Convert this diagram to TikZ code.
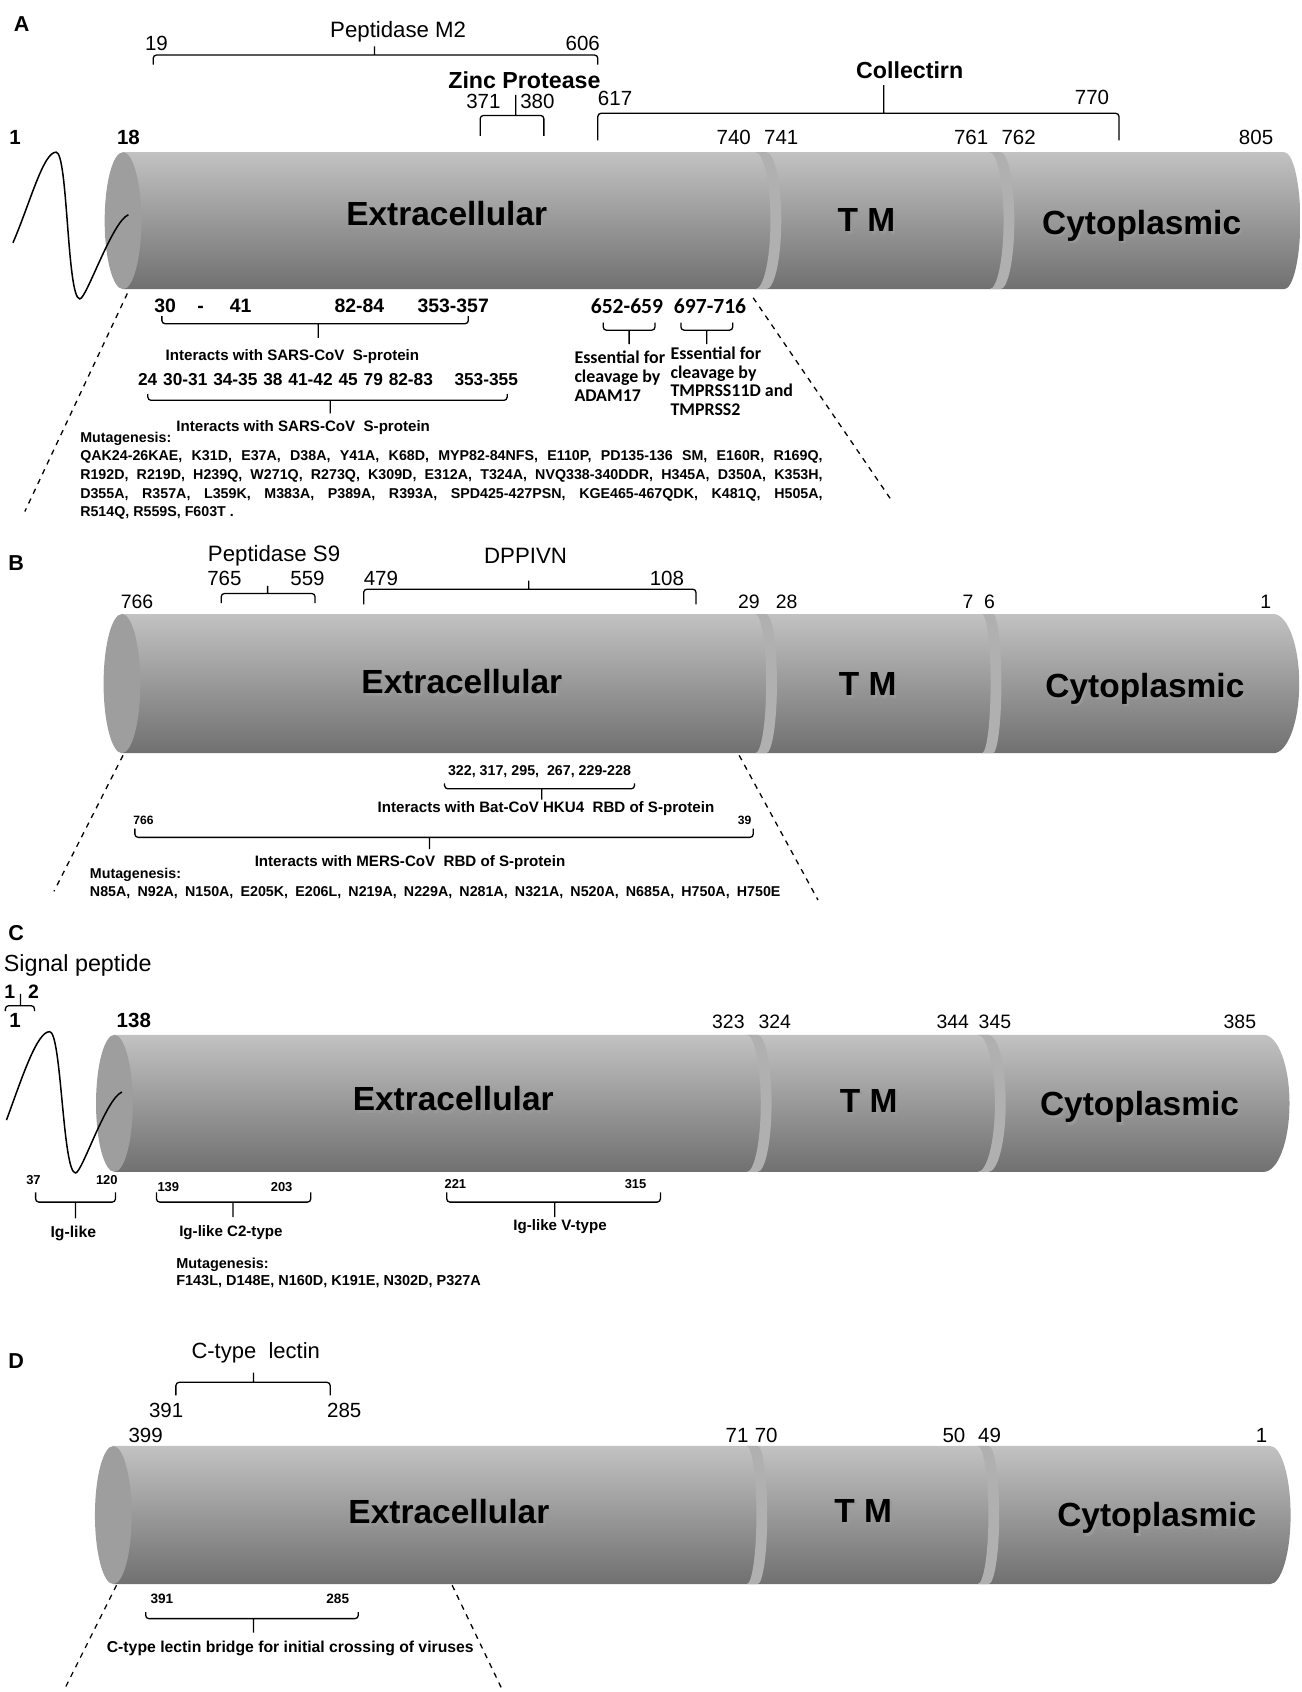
\documentclass[tikz,border=0pt]{standalone}
\usepackage{fontspec}
\setmainfont{Liberation Sans}
\newfontfamily\calfont{Carlito}
\newcommand{\fsz}[1]{\fontsize{#1}{#1}\selectfont}

\begin{document}
\begin{tikzpicture}[x=0.5pt, y=-0.5pt,
	body/.style={top color=black!24, bottom color=black!56, middle color=black!40},
	face/.style={fill=black!38},
	groove/.style={fill=black!31},
	wave/.style={line width=0.7pt},
	brk/.style={line width=0.6pt, rounded corners=1.5pt},
	zoomline/.style={line width=0.6pt, dash pattern=on 2.5pt off 2.5pt},
	panel/.style={font={\bfseries\fsz{10}}, inner sep=0pt},
	seg/.style={font={\bfseries\fsz{15.5}}, inner sep=0pt},
	segsh/.style={seg, text=black!40},
	num/.style={font={\fsz{9.5}}, inner sep=0pt},
	bnum/.style={font={\bfseries\fsz{9.5}}, inner sep=0pt},
	mid/.style={font={\bfseries\fsz{9}}, inner sep=0pt},
	ttl/.style={font={\fsz{10.3}}, inner sep=0pt},
	btl/.style={font={\bfseries\fsz{10.75}}, inner sep=0pt},
	note/.style={font={\bfseries\fsz{7}}, inner sep=0pt},
	tiny/.style={font={\bfseries\fsz{6}}, inner sep=0pt},
	cal/.style={font={\calfont\bfseries\fsz{10}}, inner sep=0pt},
	calnote/.style={font={\calfont\bfseries\fontsize{8.3}{8.7}\selectfont}, align=left, anchor=north west, inner sep=0pt},
	mut/.style={align=left, anchor=north west, inner sep=0pt}]

	\useasboundingbox (0,0) rectangle (1206,1568);

	% A
	\shade[body] (114,141) -- (1190,141) arc[start angle=-90, end angle=90, x radius=15, y radius=63.5] -- (114,268) -- cycle;
	\fill[groove] (700,141) arc[start angle=-90, end angle=90, x radius=14, y radius=63.5] -- (710,268) arc[start angle=90, end angle=-90, x radius=14, y radius=63.5] -- cycle;
	\fill[groove] (917,141) arc[start angle=-90, end angle=90, x radius=13, y radius=63.5] -- (927,268) arc[start angle=90, end angle=-90, x radius=13, y radius=63.5] -- cycle;
	\fill[face] (114,204.5) ellipse[x radius=17, y radius=63.5];
	\draw[wave] (12,225) .. controls (28,188) and (40,141) .. (52,141) .. controls (63,141) and (62,277) .. (74,277) .. controls (80,277) and (104,205) .. (119,199);

	\node[panel] (lblA) at (20,22) {A};
	\node[ttl] (pepM2) at (369,29) {Peptidase M2};
	\node[num] (a19) at (145,40) {19};
	\node[num] (a606) at (540,40) {606};
	\draw[brk] (142,60) -- (142,51) -- (554,51) -- (554,60) (347,51) -- (347,43);
	\node[btl] (zinc) at (486,74) {Zinc Protease};
	\node[num] (a371) at (448,94) {371};
	\node[num] (a380) at (498,94) {380};
	\draw[brk] (445,126) -- (445,107) -- (504,107) -- (504,126) (478,107) -- (478,88);
	\node[num] (a617) at (570,91) {617};
	\node[btl] (coll) at (843,65) {Collectirn};
	\node[num] (a770) at (1012,90) {770};
	\draw[brk] (554,130) -- (554,105) -- (1037,105) -- (1037,130) (819,105) -- (819,79);

	\node[bnum] (a1) at (14,127) {1};
	\node[bnum] (a18) at (119,127) {18};
	\node[num] (a740) at (680,127) {740};
	\node[num] (a741) at (724,127) {741};
	\node[num] (a761) at (900,127) {761};
	\node[num] (a762) at (944,127) {762};
	\node[num] (a805) at (1164,127) {805};

	\node[segsh] (aExtS) at (416,200.5) {Extracellular};
	\node[seg] (aExt) at (414,198) {Extracellular};
	\node[segsh] (aTMS) at (805,206.5) {T M};
	\node[seg] (aTM) at (803,204) {T M};
	\node[segsh] (aCytS) at (1060,211.5) {Cytoplasmic};
	\node[seg] (aCyt) at (1058,209) {Cytoplasmic};

	\node[mid] (a30) at (153,283) {30};
	\node[mid] (aDash) at (186,283) {\vphantom{0}-};
	\node[mid] (a41) at (223,283) {41};
	\node[mid] (a82) at (333,283) {82-84};
	\node[mid] (a353) at (420,283) {353-357};
	\draw[brk] (150,293) -- (150,300) -- (434,300) -- (434,293) (295,300) -- (295,313);
	\node[note] (aInt1) at (271,330) {Interacts with SARS-CoV\ \ S-protein};
	\node[inner sep=0pt, font={\bfseries\fsz{8}}] (aList) at (304,352) {\makebox[176pt][s]{24 30-31 34-35 38 41-42 45 79 82-83\hspace{10pt}353-355}};
	\draw[brk] (137,365) -- (137,371) -- (470,371) -- (470,365) (306,371) -- (306,383);
	\node[note] (aInt2) at (281,396) {Interacts with SARS-CoV\ \ S-protein};
	\node[mut, font={\bfseries\fontsize{6.6}{8.6}\selectfont}] (aMut) at (74,400) {Mutagenesis:\\
		\makebox[344pt][s]{QAK24-26KAE, K31D, E37A, D38A, Y41A, K68D, MYP82-84NFS, E110P, PD135-136 SM, E160R, R169Q,}\\
		\makebox[344pt][s]{R192D, R219D, H239Q, W271Q, R273Q, K309D, E312A, T324A, NVQ338-340DDR, H345A, D350A, K353H,}\\
		\makebox[344pt][s]{D355A, R357A, L359K, M383A, P389A, R393A, SPD425-427PSN, KGE465-467QDK, K481Q, H505A,}\\
		R514Q, R559S, F603T .};

	\node[cal] (a652) at (581,284) {652-659};
	\node[cal] (a697) at (658,284) {697-716};
	\draw[brk] (559,299) -- (559,306) -- (607,306) -- (607,299) (583,306) -- (583,319);
	\draw[brk] (631,299) -- (631,306) -- (679,306) -- (679,299) (655,306) -- (655,319);
	\node[calnote] (adam) at (532,325) {Essential for\\cleavage by\\ADAM17};
	\node[calnote] (tmprss) at (621,321) {Essential for\\cleavage by\\TMPRSS11D and\\TMPRSS2};

	\coordinate (aZl) at (118,272);
	\coordinate (aZlEnd) at (23,474);
	\coordinate (aZr) at (698,276);
	\coordinate (aZrEnd) at (825,462);
	\draw[zoomline] (aZl) -- (aZlEnd);
	\draw[zoomline] (aZr) -- (aZrEnd);

	% B
	\shade[body] (113,569) -- (1180,569) arc[start angle=-90, end angle=90, x radius=24, y radius=64.5] -- (113,698) -- cycle;
	\fill[groove] (700,569) arc[start angle=-90, end angle=90, x radius=10, y radius=64.5] -- (710,698) arc[start angle=90, end angle=-90, x radius=10, y radius=64.5] -- cycle;
	\fill[groove] (910,569) arc[start angle=-90, end angle=90, x radius=8, y radius=64.5] -- (920,698) arc[start angle=90, end angle=-90, x radius=8, y radius=64.5] -- cycle;
	\fill[face] (113,633.5) ellipse[x radius=17, y radius=64.5];

	\node[panel] (lblB) at (15,522) {B};
	\node[ttl] (pepS9) at (254,515) {Peptidase S9};
	\node[num] (b765) at (208,536) {765};
	\node[num] (b559) at (285,536) {559};
	\draw[brk] (205,559) -- (205,550) -- (292,550) -- (292,559) (248,550) -- (248,543);
	\node[ttl] (dpp) at (487,515) {DPPIVN};
	\node[num] (b479) at (353,536) {479};
	\node[num] (b108) at (618,536) {108};
	\draw[brk] (337,560) -- (337,546) -- (645,546) -- (645,560) (490,546) -- (490,538);

	\node[num, font={\fsz{9}}] (b766) at (127,558) {766};
	\node[num, font={\fsz{9}}] (b29) at (694,558) {29};
	\node[num, font={\fsz{9}}] (b28) at (729,558) {28};
	\node[num, font={\fsz{9}}] (b7) at (897,558) {7};
	\node[num, font={\fsz{9}}] (b6) at (917,558) {6};
	\node[num, font={\fsz{9}}] (b1) at (1173,558) {1};

	\node[segsh] (bExtS) at (430,634.5) {Extracellular};
	\node[seg] (bExt) at (428,632) {Extracellular};
	\node[segsh] (bTMS) at (806,636.5) {T M};
	\node[seg] (bTM) at (804,634) {T M};
	\node[segsh] (bCytS) at (1063,640.5) {Cytoplasmic};
	\node[seg] (bCyt) at (1061,638) {Cytoplasmic};

	\node[inner sep=0pt, font={\bfseries\fsz{6.6}}] (bRes) at (500,715) {322, 317, 295,\ \ 267, 229-228};
	\draw[brk] (412,726) -- (412,731) -- (588,731) -- (588,726) (502,731) -- (502,741);
	\node[note] (bBat) at (506,749) {Interacts with Bat-CoV HKU4\ \ RBD of S-protein};
	\node[inner sep=0pt, font={\bfseries\fsz{5.6}}] (b766s) at (133,760) {766};
	\node[inner sep=0pt, font={\bfseries\fsz{5.6}}] (b39) at (690,760) {39};
	\draw[brk] (125,768) -- (125,776) -- (698,776) -- (698,768) (398,776) -- (398,787);
	\node[note] (bMers) at (380,799) {Interacts with MERS-CoV\ \ RBD of S-protein};
	\node[mut, font={\bfseries\fontsize{6.6}{8.5}\selectfont}] (bMut) at (83,804) {Mutagenesis:\\
		\makebox[320pt][s]{N85A, N92A, N150A, E205K, E206L, N219A, N229A, N281A, N321A, N520A, N685A, H750A, H750E}};

	\coordinate (bZl) at (114,700);
	\coordinate (bZlEnd) at (50,826);
	\coordinate (bZr) at (685,700);
	\coordinate (bZrEnd) at (758,834);
	\draw[zoomline] (bZl) -- (bZlEnd);
	\draw[zoomline] (bZr) -- (bZrEnd);

	% C
	\shade[body] (106,959) -- (1171,959) arc[start angle=-90, end angle=90, x radius=24, y radius=63.5] -- (106,1086) -- cycle;
	\fill[groove] (692,959) arc[start angle=-90, end angle=90, x radius=13, y radius=63.5] -- (702,1086) arc[start angle=90, end angle=-90, x radius=13, y radius=63.5] -- cycle;
	\fill[groove] (906,959) arc[start angle=-90, end angle=90, x radius=16, y radius=63.5] -- (916,1086) arc[start angle=90, end angle=-90, x radius=16, y radius=63.5] -- cycle;
	\fill[face] (106,1022.5) ellipse[x radius=17, y radius=63.5];
	\draw[wave] (6,1038) .. controls (20,1000) and (34,956) .. (46,956) .. controls (57,956) and (58,1087) .. (70,1087) .. controls (76,1087) and (98,1018) .. (113,1012);

	\node[panel] (lblC) at (15,865) {C};
	\node[ttl, font={\fsz{10.8}}] (sigP) at (72,895) {Signal peptide};
	\node[bnum, font={\bfseries\fsz{9}}] (c1s) at (9,919) {1};
	\node[bnum, font={\bfseries\fsz{9}}] (c2s) at (31,919) {2};
	\draw[brk] (5,937) -- (5,932) -- (32,932) -- (32,937) (19,932) -- (19,921);

	\node[bnum] (c1) at (14,946) {1};
	\node[bnum] (c138) at (124,946) {138};
	\node[num, font={\fsz{9}}] (c323) at (675,947) {323};
	\node[num, font={\fsz{9}}] (c324) at (718,947) {324};
	\node[num, font={\fsz{9}}] (c344) at (883,947) {344};
	\node[num, font={\fsz{9}}] (c345) at (922,947) {345};
	\node[num, font={\fsz{9}}] (c385) at (1149,947) {385};

	\node[segsh] (cExtS) at (422,1020.5) {Extracellular};
	\node[seg] (cExt) at (420,1018) {Extracellular};
	\node[segsh] (cTMS) at (807,1022.5) {T M};
	\node[seg] (cTM) at (805,1020) {T M};
	\node[segsh] (cCytS) at (1058,1028.5) {Cytoplasmic};
	\node[seg] (cCyt) at (1056,1026) {Cytoplasmic};

	\node[tiny] (c37) at (31,1094) {37};
	\node[tiny] (c120) at (99,1094) {120};
	\draw[brk] (33,1105) -- (33,1114) -- (107,1114) -- (107,1105) (70,1114) -- (70,1129);
	\node[note, font={\bfseries\fsz{7.3}}] (igl) at (68,1143) {Ig-like};
	\node[tiny] (c139) at (156,1100) {139};
	\node[tiny] (c203) at (261,1100) {203};
	\draw[brk] (145,1105) -- (145,1114) -- (288,1114) -- (288,1105) (216,1114) -- (216,1128);
	\node[note] (igc2) at (214,1142) {Ig-like C2-type};
	\node[tiny] (c221) at (422,1097) {221};
	\node[tiny] (c315) at (589,1097) {315};
	\draw[brk] (414,1105) -- (414,1114) -- (612,1114) -- (612,1105) (514,1114) -- (514,1128);
	\node[note] (igv) at (519,1137) {Ig-like V-type};
	\node[mut, font={\bfseries\fontsize{6.7}{8}\selectfont}] (cMut) at (163,1165) {Mutagenesis:\\F143L, D148E, N160D, K191E, N302D, P327A};

	% D
	\shade[body] (105,1340) -- (1177,1340) arc[start angle=-90, end angle=90, x radius=19, y radius=64] -- (105,1468) -- cycle;
	\fill[groove] (692,1340) arc[start angle=-90, end angle=90, x radius=9, y radius=64] -- (702,1468) arc[start angle=90, end angle=-90, x radius=9, y radius=64] -- cycle;
	\fill[groove] (906,1340) arc[start angle=-90, end angle=90, x radius=10, y radius=64] -- (916,1468) arc[start angle=90, end angle=-90, x radius=10, y radius=64] -- cycle;
	\fill[face] (105,1404) ellipse[x radius=17, y radius=64];

	\node[panel] (lblD) at (15,1261) {D};
	\node[ttl, font={\fsz{10.2}}] (ctl) at (237,1254) {C-type\ \ lectin};
	\draw[brk] (163,1293) -- (163,1281) -- (306,1281) -- (306,1293) (235,1281) -- (235,1272);
	\node[num] (d391) at (154,1307) {391};
	\node[num] (d285) at (319,1307) {285};
	\node[num] (d399) at (135,1330) {399};
	\node[num] (d71) at (683,1330) {71};
	\node[num] (d70) at (710,1330) {70};
	\node[num] (d50) at (884,1330) {50};
	\node[num] (d49) at (917,1330) {49};
	\node[num] (d1) at (1169,1330) {1};

	\node[segsh] (dExtS) at (418,1403.5) {Extracellular};
	\node[seg] (dExt) at (416,1401) {Extracellular};
	\node[segsh] (dTMS) at (802,1402.5) {T M};
	\node[seg] (dTM) at (800,1400) {T M};
	\node[segsh] (dCytS) at (1074,1409.5) {Cytoplasmic};
	\node[seg] (dCyt) at (1072,1407) {Cytoplasmic};

	\node[tiny, font={\bfseries\fsz{6.3}}] (d391s) at (150,1482) {391};
	\node[tiny, font={\bfseries\fsz{6.3}}] (d285s) at (313,1482) {285};
	\draw[brk] (135,1494) -- (135,1500) -- (332,1500) -- (332,1494) (235,1500) -- (235,1513);
	\node[note, font={\bfseries\fsz{7.3}}] (bridge) at (269,1528) {C-type lectin bridge for initial crossing of viruses};

	\coordinate (dZl) at (108,1469);
	\coordinate (dZlEnd) at (60,1565);
	\coordinate (dZr) at (419,1469);
	\coordinate (dZrEnd) at (465,1565);
	\draw[zoomline] (dZl) -- (dZlEnd);
	\draw[zoomline] (dZr) -- (dZrEnd);

\end{tikzpicture}
\end{document}
